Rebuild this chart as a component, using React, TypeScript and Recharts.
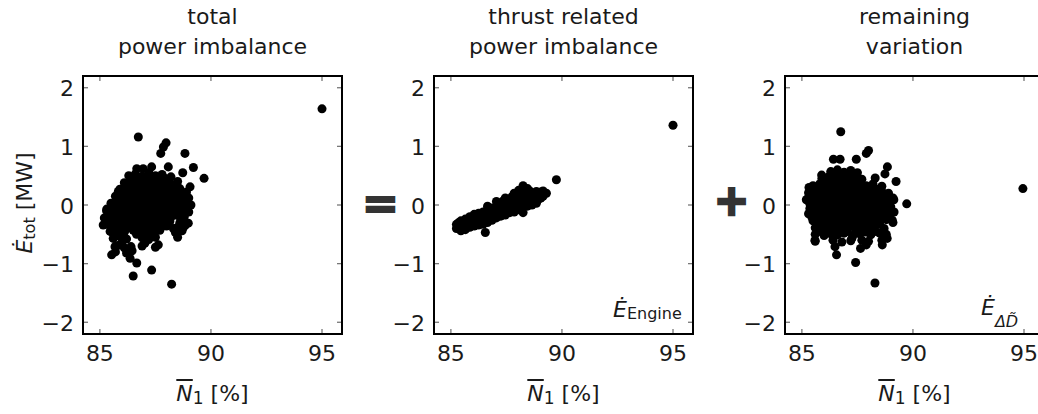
import React from "react";
import { Scatter, ScatterChart, XAxis, YAxis, ZAxis } from "recharts";

// axis setup shared by the three panels
const xTicks = [85, 90, 95];
const yTicks = [-2, -1, 0, 1, 2];
const xDomain: [number, number] = [84.24, 95.9];
const yDomain: [number, number] = [-2.2, 2.2];

// [N1 %, E MW]
const totalPoints: [number, number][] = [
  [95.0, 1.64], [86.73, 1.16], [87.98, 1.06], [87.86, 0.99], [87.74, 0.88], [88.83, 0.88],
  [89.21, 0.64], [89.69, 0.455], [88.73, 0.55], [88.08, 0.65], [87.33, 0.65], [86.66, 0.62],
  [86.95, 0.62], [85.83, 0.23], [85.31, -0.07], [85.15, -0.34], [85.53, -0.85], [86.5, -1.21],
  [87.33, -1.11], [88.23, -1.35], [86.66, -0.99], [86.36, -0.91], [89.06, 0.31], [88.91, -0.08],
  [88.98, -0.31], [88.61, -0.43], [88.31, -0.4], [87.63, -0.68], [87.03, -0.65], [85.98, -0.65],
  [85.68, -0.71], [86.13, -0.43], [85.46, -0.45],
  [86.3, 0.5], [86.6, 0.53], [86.9, 0.49], [87.2, 0.55], [87.5, 0.5], [87.8, 0.52], [88.2, 0.48],
  [86.1, 0.38], [86.4, 0.42], [86.7, 0.39], [87.0, 0.41], [87.3, 0.37], [87.6, 0.42], [87.9, 0.38],
  [88.2, 0.36], [88.5, 0.4],
  [85.9, 0.27], [86.2, 0.3], [86.5, 0.26], [86.8, 0.29], [87.1, 0.27], [87.4, 0.3], [87.7, 0.26],
  [88.0, 0.29], [88.3, 0.25], [88.6, 0.28], [88.9, 0.22],
  [85.7, 0.15], [86.0, 0.18], [86.3, 0.14], [86.6, 0.17], [86.9, 0.15], [87.2, 0.18], [87.5, 0.14],
  [87.8, 0.17], [88.1, 0.15], [88.4, 0.13], [88.7, 0.16], [89.0, 0.12],
  [85.5, 0.03], [85.8, 0.06], [86.1, 0.02], [86.4, 0.05], [86.7, 0.03], [87.0, 0.06], [87.3, 0.02],
  [87.6, 0.05], [87.9, 0.03], [88.2, 0.06], [88.5, 0.02], [88.8, 0.04], [89.1, 0.0],
  [85.3, -0.1], [85.6, -0.07], [85.9, -0.09], [86.2, -0.06], [86.5, -0.1], [86.8, -0.07],
  [87.1, -0.09], [87.4, -0.06], [87.7, -0.1], [88.0, -0.07], [88.3, -0.09], [88.6, -0.06], [89.0, -0.12],
  [85.2, -0.22], [85.5, -0.19], [85.8, -0.21], [86.1, -0.18], [86.4, -0.22], [86.7, -0.19],
  [87.0, -0.21], [87.3, -0.18], [87.6, -0.22], [87.9, -0.19], [88.2, -0.21], [88.5, -0.18], [88.8, -0.2],
  [85.3, -0.33], [85.6, -0.3], [85.9, -0.34], [86.2, -0.31], [86.5, -0.33], [86.8, -0.3],
  [87.1, -0.34], [87.4, -0.31], [87.7, -0.33], [88.0, -0.36], [88.6, -0.3], [88.85, -0.34],
  [85.5, -0.45], [85.8, -0.42], [86.1, -0.46], [86.5, -0.43], [86.8, -0.47], [87.1, -0.44],
  [87.4, -0.46], [87.7, -0.43], [88.4, -0.47], [88.7, -0.44],
  [85.6, -0.57], [85.9, -0.54], [86.2, -0.58], [86.9, -0.56], [87.2, -0.59], [87.5, -0.55], [88.5, -0.55],
  [85.8, -0.69], [86.1, -0.73], [86.4, -0.71], [86.9, -0.7], [87.5, -0.72],
  [85.7, -0.8], [86.2, -0.82], [86.45, -0.78],
  // interior fill
  [86.45, 0.46], [86.75, 0.46], [87.05, 0.47], [87.35, 0.45], [87.65, 0.46], [87.95, 0.45],
  [86.25, 0.34], [86.55, 0.33], [86.85, 0.35], [87.15, 0.33], [87.45, 0.34], [87.75, 0.33],
  [88.05, 0.35], [88.35, 0.32],
  [86.05, 0.22], [86.35, 0.21], [86.65, 0.23], [86.95, 0.22], [87.25, 0.21], [87.55, 0.23],
  [87.85, 0.22], [88.15, 0.21], [88.45, 0.22], [88.75, 0.2],
  [85.85, 0.1], [86.15, 0.11], [86.45, 0.09], [86.75, 0.1], [87.05, 0.11], [87.35, 0.09],
  [87.65, 0.1], [87.95, 0.11], [88.25, 0.09], [88.55, 0.1], [88.85, 0.08],
  [85.65, -0.02], [85.95, -0.01], [86.25, -0.03], [86.55, -0.02], [86.85, -0.01], [87.15, -0.03],
  [87.45, -0.02], [87.75, -0.01], [88.05, -0.03], [88.35, -0.02], [88.65, -0.01], [88.95, -0.04],
  [85.45, -0.14], [85.75, -0.13], [86.05, -0.15], [86.35, -0.14], [86.65, -0.13], [86.95, -0.15],
  [87.25, -0.14], [87.55, -0.13], [87.85, -0.15], [88.15, -0.14], [88.45, -0.13], [88.75, -0.15],
  [85.45, -0.26], [85.75, -0.27], [86.05, -0.25], [86.35, -0.26], [86.65, -0.27], [86.95, -0.25],
  [87.25, -0.26], [87.55, -0.27], [87.85, -0.25], [88.15, -0.28], [88.75, -0.26],
  [85.65, -0.38], [85.95, -0.39], [86.35, -0.37], [86.65, -0.38], [86.95, -0.39], [87.25, -0.37],
  [87.55, -0.38], [88.5, -0.38], [88.75, -0.39],
  [85.75, -0.5], [86.05, -0.51], [86.65, -0.5], [87.0, -0.51], [87.35, -0.5],
];

const enginePoints: [number, number][] = [
  [95.0, 1.36], [89.75, 0.43], [86.55, -0.47],
  [85.25, -0.4], [85.25, -0.33],
  [85.45, -0.44], [85.45, -0.36], [85.45, -0.27],
  [85.65, -0.42], [85.65, -0.33], [85.65, -0.24],
  [85.85, -0.38], [85.85, -0.29], [85.85, -0.2],
  [86.05, -0.36], [86.05, -0.26], [86.05, -0.16],
  [86.25, -0.34], [86.25, -0.24], [86.25, -0.14],
  [86.45, -0.33], [86.45, -0.22], [86.45, -0.12],
  [86.65, -0.3], [86.65, -0.19], [86.65, -0.08], [86.65, -0.02],
  [86.85, -0.26], [86.85, -0.15], [86.85, -0.05],
  [87.05, -0.22], [87.05, -0.12], [87.05, -0.02], [87.05, 0.06],
  [87.25, -0.19], [87.25, -0.09], [87.25, 0.01],
  [87.45, -0.17], [87.45, -0.06], [87.45, 0.04], [87.45, 0.12],
  [87.65, -0.13], [87.65, -0.03], [87.65, 0.07],
  [87.85, -0.12], [87.85, 0.0], [87.85, 0.11], [87.85, 0.2],
  [88.05, -0.08], [88.05, 0.04], [88.05, 0.14], [88.05, 0.25],
  [88.25, -0.13], [88.25, 0.02], [88.25, 0.12], [88.25, 0.24], [88.25, 0.33],
  [88.45, -0.02], [88.45, 0.08], [88.45, 0.18], [88.45, 0.28],
  [88.65, 0.0], [88.65, 0.1], [88.65, 0.2],
  [88.85, 0.03], [88.85, 0.13], [88.85, 0.23],
  [89.05, 0.12], [89.05, 0.22], [89.3, 0.2],
  // interior fill
  [85.35, -0.38], [85.35, -0.3], [85.55, -0.39], [85.55, -0.3], [85.75, -0.37], [85.75, -0.28],
  [85.95, -0.33], [85.95, -0.24], [86.15, -0.31], [86.15, -0.21], [86.35, -0.28], [86.35, -0.18],
  [86.55, -0.26], [86.55, -0.16], [86.75, -0.23], [86.75, -0.12], [86.95, -0.2], [86.95, -0.09],
  [87.15, -0.16], [87.15, -0.05], [87.35, -0.13], [87.35, -0.02], [87.35, 0.07],
  [87.55, -0.1], [87.55, 0.0], [87.55, 0.09], [87.75, -0.07], [87.75, 0.04], [87.75, 0.14],
  [87.95, -0.04], [87.95, 0.08], [87.95, 0.18], [88.15, -0.02], [88.15, 0.1], [88.15, 0.2],
  [88.35, 0.04], [88.35, 0.15], [88.35, 0.26], [88.55, 0.05], [88.55, 0.15], [88.55, 0.24],
  [88.75, 0.08], [88.75, 0.18], [88.95, 0.1], [88.95, 0.2], [89.15, 0.15], [89.15, 0.24],
];

const remainingPoints: [number, number][] = [
  [86.75, 1.25], [87.9, 0.88], [88.0, 0.93], [87.45, 0.78], [86.42, 0.78], [86.72, 0.78],
  [88.85, 0.65], [88.74, 0.53], [89.24, 0.4], [89.72, 0.02], [94.95, 0.28], [85.32, 0.3],
  [85.24, 0.1], [85.36, -0.06], [85.59, -0.6], [86.56, -0.85], [86.49, -0.71], [87.42, -0.98],
  [88.29, -1.33], [87.64, -0.74], [87.9, -0.68], [88.62, -0.68], [88.84, -0.57], [89.07, -0.26],
  [89.14, 0.09], [85.89, 0.51], [87.25, -0.57], [85.96, -0.48],
  [86.3, 0.57], [86.6, 0.6], [86.9, 0.56], [87.2, 0.59], [87.5, 0.55],
  [85.9, 0.45], [86.2, 0.48], [86.5, 0.44], [86.8, 0.47], [87.1, 0.45], [87.4, 0.48], [87.7, 0.44], [88.3, 0.46],
  [85.5, 0.33], [85.8, 0.36], [86.1, 0.32], [86.4, 0.35], [86.7, 0.33], [87.0, 0.36], [87.3, 0.32],
  [87.6, 0.35], [87.9, 0.33], [88.2, 0.36], [88.6, 0.32],
  [85.3, 0.21], [85.6, 0.24], [85.9, 0.2], [86.2, 0.23], [86.5, 0.21], [86.8, 0.24], [87.1, 0.2],
  [87.4, 0.23], [87.7, 0.21], [88.0, 0.24], [88.3, 0.2], [88.6, 0.23], [88.9, 0.2],
  [85.2, 0.09], [85.5, 0.12], [85.8, 0.08], [86.1, 0.11], [86.4, 0.09], [86.7, 0.12], [87.0, 0.08],
  [87.3, 0.11], [87.6, 0.09], [87.9, 0.12], [88.2, 0.08], [88.5, 0.11], [88.8, 0.09], [89.1, 0.12],
  [85.4, -0.03], [85.7, 0.0], [86.0, -0.04], [86.3, -0.01], [86.6, -0.03], [86.9, 0.0], [87.2, -0.04],
  [87.5, -0.01], [87.8, -0.03], [88.1, 0.0], [88.4, -0.04], [88.7, -0.01], [89.0, -0.03],
  [85.3, -0.15], [85.6, -0.12], [85.9, -0.16], [86.2, -0.13], [86.5, -0.15], [86.8, -0.12], [87.1, -0.16],
  [87.4, -0.13], [87.7, -0.15], [88.0, -0.12], [88.3, -0.16], [88.6, -0.13], [88.9, -0.15], [89.15, -0.12],
  [85.5, -0.27], [85.8, -0.24], [86.1, -0.28], [86.4, -0.25], [86.7, -0.27], [87.0, -0.24], [87.3, -0.28],
  [87.6, -0.25], [87.9, -0.27], [88.2, -0.24], [88.5, -0.28], [88.8, -0.25], [89.1, -0.3],
  [85.6, -0.39], [85.9, -0.36], [86.2, -0.4], [86.5, -0.37], [86.8, -0.39], [87.1, -0.36], [87.4, -0.4],
  [87.7, -0.37], [88.0, -0.39], [88.3, -0.36], [88.7, -0.4],
  [85.6, -0.5], [86.0, -0.52], [86.3, -0.49], [86.6, -0.51], [86.9, -0.48], [87.3, -0.52], [87.6, -0.49],
  [88.1, -0.51], [88.5, -0.48], [88.8, -0.5],
  [85.6, -0.62], [86.4, -0.6], [86.8, -0.63], [87.2, -0.61], [87.7, -0.6], [88.0, -0.62], [88.6, -0.6],
  // interior fill
  [86.45, 0.51], [86.75, 0.52], [87.05, 0.5], [87.35, 0.51],
  [86.05, 0.39], [86.35, 0.4], [86.65, 0.38], [86.95, 0.39], [87.25, 0.4], [87.55, 0.38],
  [85.65, 0.27], [85.95, 0.28], [86.25, 0.26], [86.55, 0.27], [86.85, 0.28], [87.15, 0.26],
  [87.45, 0.27], [87.75, 0.28], [88.05, 0.26], [88.35, 0.27],
  [85.45, 0.15], [85.75, 0.16], [86.05, 0.14], [86.35, 0.15], [86.65, 0.16], [86.95, 0.14],
  [87.25, 0.15], [87.55, 0.16], [87.85, 0.14], [88.15, 0.15], [88.45, 0.16], [88.75, 0.14],
  [85.35, 0.03], [85.65, 0.04], [85.95, 0.02], [86.25, 0.03], [86.55, 0.04], [86.85, 0.02],
  [87.15, 0.03], [87.45, 0.04], [87.75, 0.02], [88.05, 0.03], [88.35, 0.04], [88.65, 0.02], [88.95, 0.03],
  [85.55, -0.09], [85.85, -0.08], [86.15, -0.1], [86.45, -0.09], [86.75, -0.08], [87.05, -0.1],
  [87.35, -0.09], [87.65, -0.08], [87.95, -0.1], [88.25, -0.09], [88.55, -0.08], [88.85, -0.1],
  [85.45, -0.21], [85.75, -0.2], [86.05, -0.22], [86.35, -0.21], [86.65, -0.2], [86.95, -0.22],
  [87.25, -0.21], [87.55, -0.2], [87.85, -0.22], [88.15, -0.21], [88.45, -0.2], [88.75, -0.22],
  [85.65, -0.33], [85.95, -0.32], [86.25, -0.34], [86.55, -0.33], [86.85, -0.32], [87.15, -0.34],
  [87.45, -0.33], [87.75, -0.32], [88.05, -0.34], [88.5, -0.33],
  [85.85, -0.45], [86.45, -0.44], [86.75, -0.46], [87.05, -0.45], [87.45, -0.44], [87.85, -0.46], [88.3, -0.45],
];

const panelTitles = [
  ["total", "power imbalance"],
  ["thrust related", "power imbalance"],
  ["remaining", "variation"],
];

const FONT = "'DejaVu Sans', sans-serif";
const TEXT = "#1a1a1a";
const TICK_GREY = "#777";
const TICK_LEN = 5;

const PANEL_W = 351;
const CHART_H = 414;
const PLOT_LEFT = 83;
const PLOT_W = 259;
const PLOT_TOP = 76;
const PLOT_BOTTOM = 334;
const PLOT_H = PLOT_BOTTOM - PLOT_TOP;

const fmt = (v: number) => (v < 0 ? "\u2212" + Math.abs(v) : String(v));

// bottom ticks also draw their mirror on the top edge, left ticks on the right edge
const bottomTick = (p: any) => (
  <g>
    <line x1={p.x} y1={p.y} x2={p.x} y2={p.y - TICK_LEN} stroke={TICK_GREY} strokeWidth={1.3} />
    <line x1={p.x} y1={p.y - PLOT_H} x2={p.x} y2={p.y - PLOT_H + TICK_LEN} stroke={TICK_GREY} strokeWidth={1.3} />
    <text x={p.x} y={p.y + 27} textAnchor="middle" fontSize={22} fontFamily={FONT} fill={TEXT}>
      {fmt(p.payload.value)}
    </text>
  </g>
);
const leftTick = (p: any) => (
  <g>
    <line x1={p.x} y1={p.y} x2={p.x + TICK_LEN} y2={p.y} stroke={TICK_GREY} strokeWidth={1.3} />
    <line x1={p.x + PLOT_W} y1={p.y} x2={p.x + PLOT_W - TICK_LEN} y2={p.y} stroke={TICK_GREY} strokeWidth={1.3} />
    <text x={p.x - 9} y={p.y + 8.5} textAnchor="end" fontSize={22} fontFamily={FONT} fill={TEXT}>
      {fmt(p.payload.value)}
    </text>
  </g>
);

function Panel({ points }: { points: [number, number][] }) {
  const data = points.map(([n1, e]) => ({ n1, e }));
  return (
    <ScatterChart
      width={PANEL_W}
      height={CHART_H}
      margin={{ top: PLOT_TOP, right: PANEL_W - PLOT_LEFT - PLOT_W, bottom: 0, left: 0 }}
    >
      <XAxis
        dataKey="n1"
        type="number"
        domain={xDomain}
        ticks={xTicks}
        interval={0}
        allowDataOverflow
        height={CHART_H - PLOT_BOTTOM}
        axisLine={false}
        tickLine={false}
        tickSize={0}
        tickMargin={0}
        tick={bottomTick}
      />
      <YAxis
        dataKey="e"
        type="number"
        domain={yDomain}
        ticks={yTicks}
        interval={0}
        allowDataOverflow
        width={PLOT_LEFT}
        axisLine={false}
        tickLine={false}
        tickSize={0}
        tickMargin={0}
        tick={leftTick}
      />
      <ZAxis type="number" range={[84, 84]} />
      <Scatter data={data} fill="#000" isAnimationActive={false} />
    </ScatterChart>
  );
}

const abs = (left: number, top: number, extra: React.CSSProperties = {}): React.CSSProperties => ({
  position: "absolute",
  left,
  top,
  fontFamily: FONT,
  color: TEXT,
  lineHeight: 1,
  whiteSpace: "nowrap",
  ...extra,
});

function XLabel({ cx }: { cx: number }) {
  return (
    <div style={abs(cx - 70, 402 - 0.846 * 22, { width: 140, textAlign: "center", fontSize: 22 })}>
      <span style={{ fontStyle: "italic", textDecoration: "overline" }}>N</span>
      <span style={{ fontSize: 17, position: "relative", top: 3 }}>1</span> [%]
    </div>
  );
}

export default function App() {
  const panels = [totalPoints, enginePoints, remainingPoints];
  return (
    <div
      style={{
        position: "absolute",
        left: 0,
        top: 0,
        width: 1038,
        height: 414,
        overflow: "hidden",
        background: "#fff",
      }}
    >
      {panels.map((pts, i) => (
        <div key={i} style={{ position: "absolute", left: i * PANEL_W, top: 0, width: PANEL_W, height: CHART_H }}>
          <Panel points={pts} />
        </div>
      ))}

      {/* closed frame around each plot area, drawn as four bars */}
      {panels.map((_, i) => {
        const l = i * PANEL_W + PLOT_LEFT;
        const bar = (left: number, top: number, width: number, height: number): React.CSSProperties => ({
          position: "absolute",
          left,
          top,
          width,
          height,
          background: "#000",
          zIndex: 5,
        });
        return (
          <React.Fragment key={`frame${i}`}>
            <div style={bar(l - 1, PLOT_TOP - 1, PLOT_W + 2, 2)} />
            <div style={bar(l - 1, PLOT_BOTTOM - 1, PLOT_W + 2, 2)} />
            <div style={bar(l - 1, PLOT_TOP - 1, 2, PLOT_H + 2)} />
            <div style={bar(l + PLOT_W - 1, PLOT_TOP - 1, 2, PLOT_H + 2)} />
          </React.Fragment>
        );
      })}

      {panelTitles.map((lines, i) => {
        const cx = i * PANEL_W + PLOT_LEFT + PLOT_W / 2;
        return lines.map((t, j) => (
          <div
            key={`${i}-${j}`}
            style={abs(cx - 120, 25 + 30 * j - 0.846 * 22, { width: 240, textAlign: "center", fontSize: 22 })}
          >
            {t}
          </div>
        ));
      })}

      {[0, 1, 2].map((i) => (
        <XLabel key={i} cx={i * PANEL_W + PLOT_LEFT + PLOT_W / 2} />
      ))}

      <div
        style={abs(25, 203, {
          fontSize: 22,
          transform: "translate(-50%, -50%) rotate(-90deg)",
        })}
      >
        <span style={{ fontStyle: "italic" }}>{"\u0116"}</span>
        <span style={{ fontSize: 16, position: "relative", top: 3 }}>tot</span> [MW]
      </div>

      <div style={abs(362, 181, { fontSize: 44, fontWeight: 700, color: "#333", WebkitTextStroke: "2px #333" })}>=</div>
      <div style={abs(714, 180, { fontSize: 42, fontWeight: 700, color: "#333", WebkitTextStroke: "2.5px #333" })}>+</div>

      <div style={abs(613, 318 - 0.846 * 22, { fontSize: 22 })}>
        <span style={{ fontStyle: "italic" }}>{"\u0116"}</span>
        <span style={{ fontSize: 16, position: "relative", top: 2 }}>Engine</span>
      </div>
      <div style={abs(981, 316 - 0.846 * 22, { fontSize: 22 })}>
        <span style={{ fontStyle: "italic" }}>{"\u0116"}</span>
        <span style={{ fontSize: 16, position: "relative", top: 12, fontStyle: "italic" }}>
          {"\u0394D\u0303"}
        </span>
      </div>
    </div>
  );
}
